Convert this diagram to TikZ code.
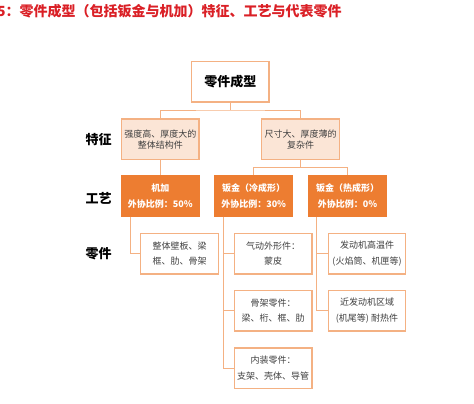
\documentclass[tikz,border=0pt]{standalone}
\usepackage{fontspec}
\setmainfont{Noto Sans CJK SC}
\definecolor{lineorange}{RGB}{244,177,131}
\definecolor{featfill}{RGB}{251,229,214}
\definecolor{procfill}{RGB}{237,125,49}
\definecolor{titlered}{RGB}{218,32,38}
\definecolor{parttext}{RGB}{64,64,64}
\begin{document}
\begin{tikzpicture}[x=1pt,y=-1pt,
  box/.style={draw=lineorange,line width=1.2pt,minimum width=77.5pt,minimum height=40.5pt,inner sep=0pt,align=center},
  topbox/.style={box,fill=white,font=\fontsize{13}{15}\selectfont\bfseries},
  featbox/.style={box,fill=featfill,text=parttext,font=\fontsize{9}{11.3}\selectfont},
  procbox/.style={box,draw=procfill,fill=procfill,text=white,font=\fontsize{9}{15.6}\selectfont\bfseries},
  partbox/.style={box,fill=white,text=parttext,font=\fontsize{9}{15.7}\selectfont},
  sidelabel/.style={font=\fontsize{13}{15}\selectfont\bfseries,text=black,inner sep=0pt},
  conn/.style={draw=lineorange,line width=1pt}]
\useasboundingbox (0,0) rectangle (474,404);
\node[anchor=west,inner sep=0pt,text=titlered,font=\fontsize{14}{16}\selectfont\bfseries] (title) at (-3,11) {5：零件成型（包括钣金与机加）特征、工艺与代表零件};

\node[sidelabel] (l1) at (98.7,139.3) {特征};
\node[sidelabel] (l2) at (98.7,198.3) {工艺};
\node[sidelabel] (l3) at (98.7,253.3) {零件};

\node[topbox] (top) at (230.3,81.7) {零件成型};
\node[featbox] (f1) at (160.3,139.3) {强度高、厚度大的\\整体结构件};
\node[featbox] (f2) at (300.5,139.3) {尺寸大、厚度薄的\\复杂件};
\node[procbox] (p1) at (160.3,196.3) {机加\\外协比例：50\%};
\node[procbox] (p2) at (253.7,196.3) {钣金（冷成形）\\外协比例：30\%};
\node[procbox] (p3) at (347.5,196.3) {钣金（热成形）\\外协比例：0\%};

\node[partbox] (a1) at (179.5,253.7) {整体壁板、梁\\框、肋、骨架};
\node[partbox] (b1) at (273.2,253.7) {气动外形件：\\蒙皮};
\node[partbox] (b2) at (273.2,310.7) {骨架零件：\\梁、桁、框、肋};
\node[partbox] (b3) at (273.2,368.3) {内装零件：\\支架、壳体、导管};
\node[partbox] (c1) at (367,253.7) {发动机高温件\\(火焰筒、机匣等)};
\node[partbox] (c2) at (367,310.7) {近发动机区域\\(机尾等) 耐热件};

\coordinate (j0) at (230.3,110);
\coordinate (j1) at (300.5,167.7);
\coordinate (sA) at (130,216.5);
\coordinate (sB) at (223.3,216.5);
\coordinate (sC) at (316.7,216.5);

\draw[conn] (top.south) -- (j0);
\draw[conn] (f1.north) |- (j0) -| (f2.north);
\draw[conn] (f1.south) -- (p1.north);
\draw[conn] (f2.south) -- (j1);
\draw[conn] (p2.north) |- (j1) -| (p3.north);
\draw[conn] (sA) |- (a1.west);
\draw[conn] (sB) |- (b3.west);
\draw[conn] (sB |- b1.west) -- (b1.west);
\draw[conn] (sB |- b2.west) -- (b2.west);
\draw[conn] (sC) |- (c2.west);
\draw[conn] (sC |- c1.west) -- (c1.west);
\end{tikzpicture}
\end{document}
